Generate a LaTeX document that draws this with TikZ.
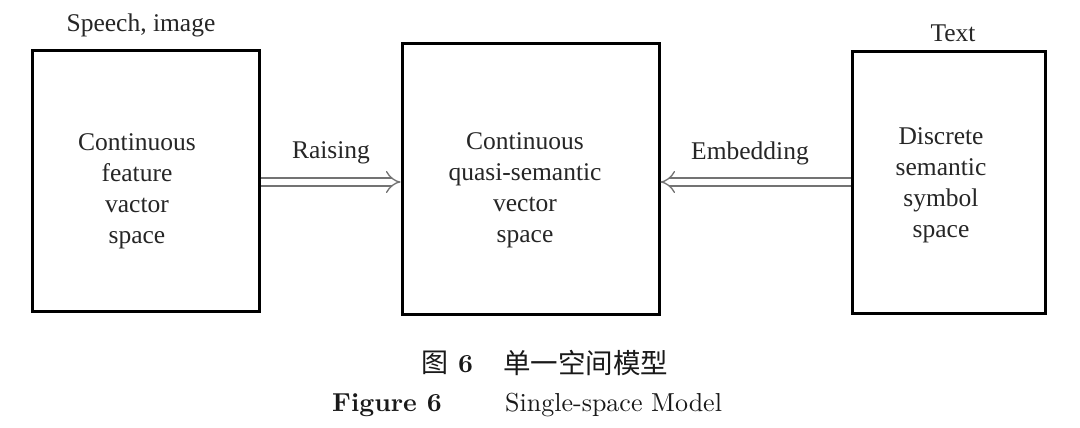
\documentclass[tikz,border=0pt]{standalone}
\usepackage{fontspec}
\newfontfamily\tnr{Liberation Serif}
\newfontfamily\cjk{Noto Sans CJK SC}
\newfontfamily\lmten{lmroman10-regular.otf}
\newfontfamily\lmtenbf{lmroman10-bold.otf}
\usetikzlibrary{arrows.meta,calc}
\begin{document}
\begin{tikzpicture}[x=1pt,y=-1pt,
  spacebox/.style={draw=black,line width=3pt,minimum width=#1,inner sep=0pt},
  boxtext/.style={font=\tnr\fontsize{25.5}{31}\selectfont,align=center,inner sep=0pt,text=black!85},
  lbl/.style={font=\tnr\fontsize{25.5}{31}\selectfont,inner sep=0pt,text=black!85},
  dblarrow/.style={draw=black!55,line width=1.3pt,double=white,double distance=6.5pt,-{Implies[length=4pt]}},
  captext/.style={inner sep=0pt,text=black!90}]
\useasboundingbox (0,0) rectangle (1080,428);
\fill[white] (0,0) rectangle (1080,428);
% boxes
\node[spacebox=227pt,minimum height=260pt] (L) at (145.5,181) {};
\node[spacebox=257pt,minimum height=270pt] (M) at (530.5,179) {};
\node[spacebox=193pt,minimum height=261pt] (R) at (948.5,182.5) {};
% box texts
\node[boxtext] (Lt) at (137,191) {Continuous\\feature\\vactor\\space};
\node[boxtext] (Mt) at (525,190) {Continuous\\quasi-semantic\\vector\\space};
\node[boxtext] (Rt) at (941,185) {Discrete\\semantic\\symbol\\space};
% top labels
\node[lbl] (Ls) at (141,25) {Speech, image};
\node[lbl] (Rs) at (953,33) {Text};
% arrow labels
\node[lbl] (ra) at (331,153) {Raising};
\node[lbl] (em) at (750,153) {Embedding};
% arrows
\coordinate (a1) at ($(L.east)+(0,1)$);
\coordinate (a2) at ($(R.west)+(0,-0.5)$);
\draw[dblarrow] (a1) -- (a1 -| M.west);
\draw[dblarrow] (a2) -- (a2 -| M.east);
% caption
\node[captext,anchor=west,font=\cjk\fontsize{27}{30}\selectfont] (c1) at (421,363) {图};
\node[captext,anchor=west,font=\lmtenbf\fontsize{26}{30}\selectfont] (c2) at (458,364) {6};
\node[captext,anchor=west,font=\cjk\fontsize{27.5}{30}\selectfont] (c3) at (503,363) {单一空间模型};
\node[captext,anchor=west,font=\lmtenbf\fontsize{26}{30}\selectfont] (c4) at (332,405) {Figure 6};
\node[captext,anchor=west,font=\lmten\fontsize{26}{30}\selectfont] (c5) at (505,405) {Single-space Model};
\end{tikzpicture}
\end{document}
